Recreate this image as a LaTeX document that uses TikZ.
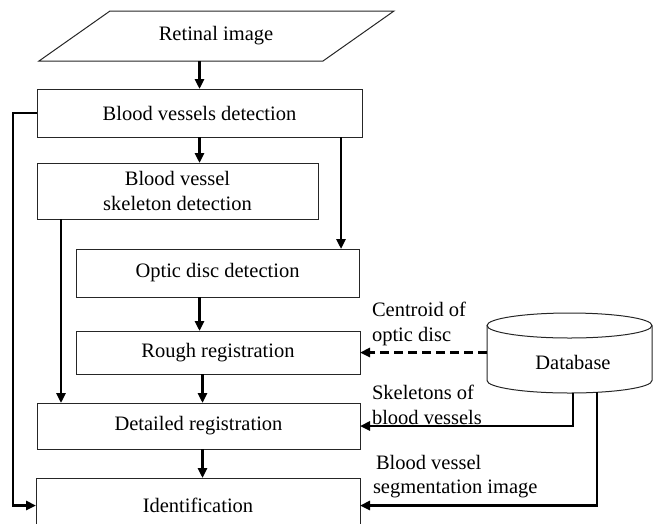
\documentclass[tikz,border=0pt]{standalone}
\usepackage{fontspec}
\setmainfont{Liberation Serif}
\usetikzlibrary{arrows.meta,calc}
\tikzset{
  txt/.style={font=\fontsize{20.5}{24.5}\selectfont, inner sep=0pt, outer sep=0pt},
  box/.style={txt, draw=black!85, line width=1pt, rectangle, align=center},
  arr/.style={line width=2.6pt, -{Triangle[length=10pt,width=9pt]}},
  lab/.style={txt, align=left, anchor=west},
}
\begin{document}
\begin{tikzpicture}[x=1pt,y=-1pt]
\useasboundingbox (0,0) rectangle (653,523);
\clip (0,0) rectangle (653,523);
% input parallelogram
\draw[black!85, line width=1pt] (39,61) -- (110,11) -- (394,11) -- (323,61) -- cycle;
\node[txt, minimum height=50pt] (ret) at (216,36) {Retinal image};
% process boxes
\node[box, minimum width=325pt, minimum height=48pt] (bvd) at (199.5,113) {Blood vessels detection};
\node[box, minimum width=281pt, minimum height=56pt] (skel) at (177.5,191) {Blood vessel\\skeleton detection};
\node[box, minimum width=283pt, minimum height=48pt] (optic) at (217.5,273) {Optic disc detection};
\node[box, minimum width=284pt, minimum height=43pt] (rough) at (218,352.5) {Rough registration};
\node[box, minimum width=323pt, minimum height=46pt] (det) at (198.5,426) {Detailed registration};
\node[box, minimum width=324pt, minimum height=55pt] (ident) at (198,505.5) {Identification};
% database cylinder
\draw[black!85, line width=1pt] (487,325.5) -- (487,380.5) arc[start angle=180, end angle=0, x radius=82.5, y radius=12.5] -- (652,325.5);
\draw[black!85, line width=1pt] (569.5,325.5) ellipse [x radius=82.5, y radius=12.5];
\node[txt] (db) at (573,362) {Database};
\coordinate (dbw) at (487,352.5);
\coordinate (dbs1) at (573,393);
\coordinate (dbs2) at (597,392.3);
% connectors
\draw[arr] (ret.south -| bvd.north) -- (bvd.north);
\draw[arr] (bvd.south) -- (bvd.south |- skel.north);
\draw[arr] ([xshift=-21pt]bvd.south east) -- ([xshift=-21pt]bvd.south east |- optic.north);
\draw[arr] (optic.south -| bvd.south) -- (rough.north -| bvd.south);
\draw[arr] ([xshift=4pt]det.north |- rough.south) -- ([xshift=4pt]det.north);
\draw[arr] ([xshift=4pt]det.south) -- ([xshift=4pt]det.south |- ident.north);
\draw[arr] ([xshift=24pt]skel.south west) -- ([xshift=24pt]skel.south west |- det.north);
\draw[arr] (bvd.west) -- ++(-24,0) |- (ident.west);
\draw[arr, dash pattern=on 9pt off 5pt] (dbw) -- (rough.east);
\draw[arr] (dbs1) |- (det.east);
\draw[arr] (dbs2) |- (ident.east);
% labels
\node[lab] (l1) at (372,324) {Centroid of\\optic disc};
\node[lab] (l2) at (372,405) {Skeletons of\\blood vessels};
\node[lab] (l3) at (373,476.5) {\hspace*{3pt}Blood vessel\\segmentation image};
\end{tikzpicture}
\end{document}
